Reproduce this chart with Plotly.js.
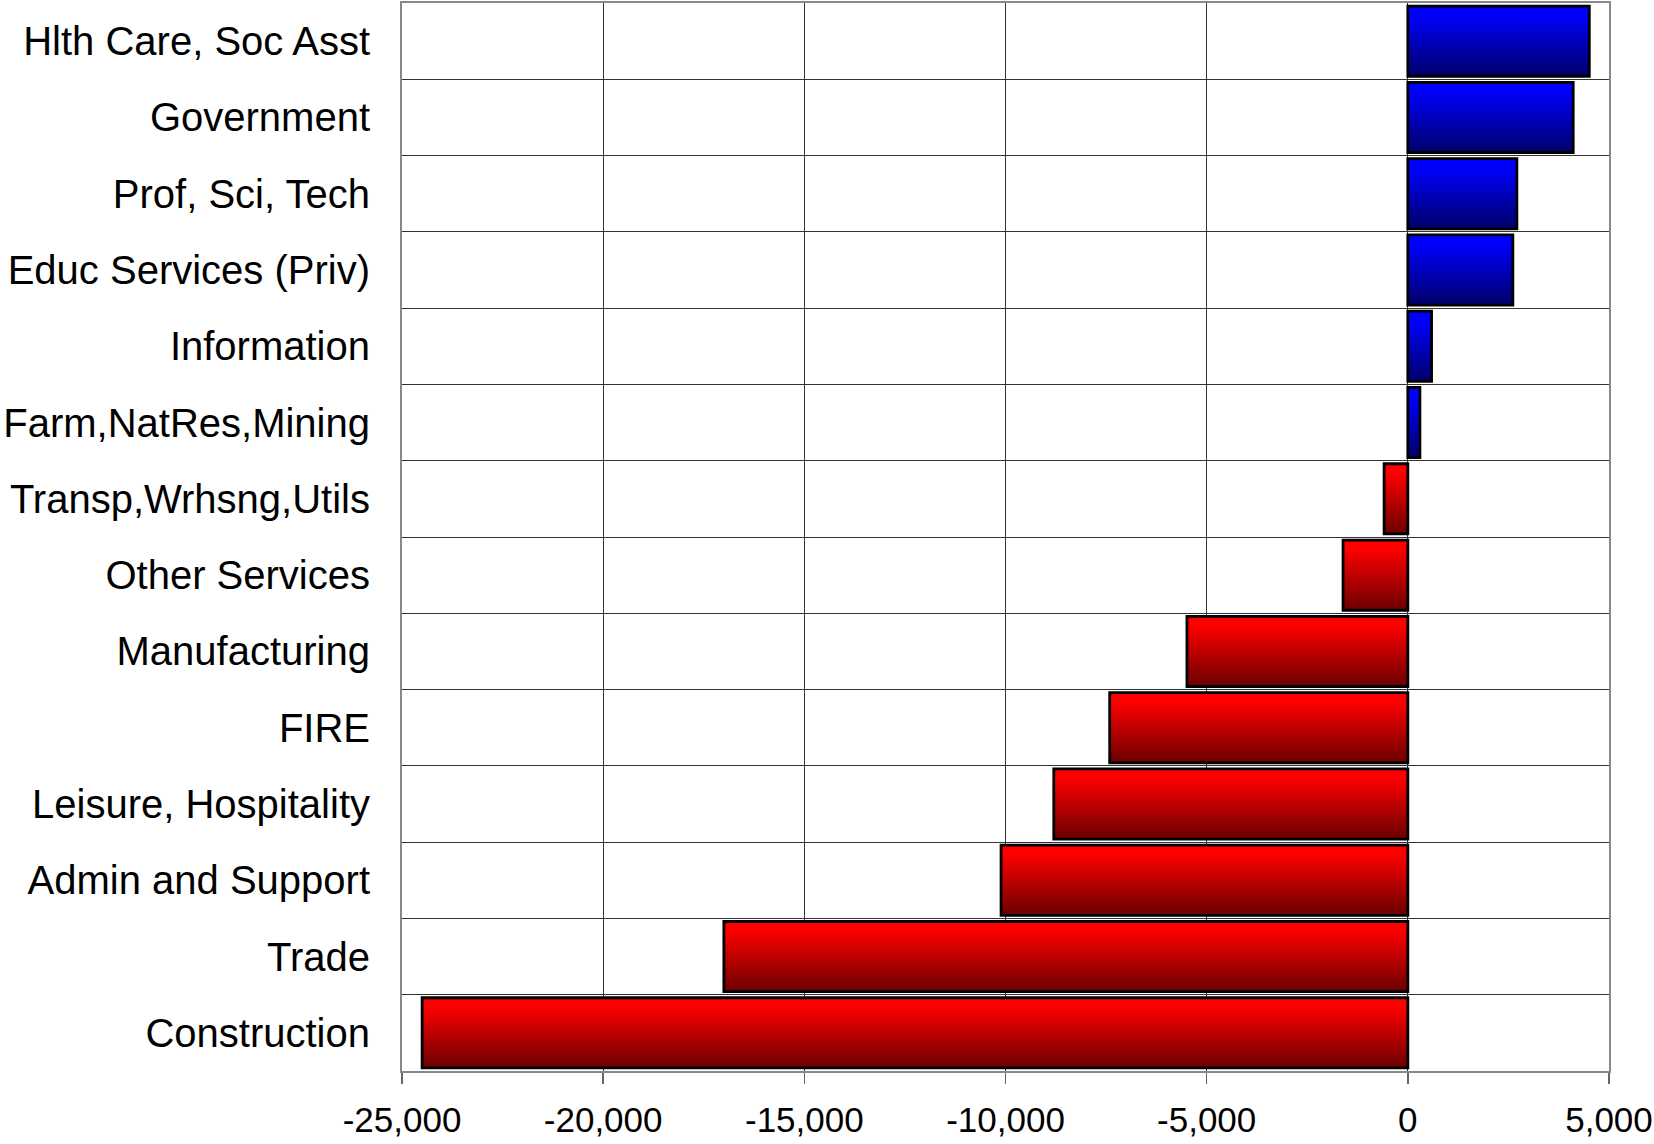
<!DOCTYPE html>
<html>
<head>
<meta charset="utf-8">
<script src="https://cdn.plot.ly/plotly-3.0.1.min.js"></script>
<style>
html,body{margin:0;padding:0;background:#fff;}
#chart{width:1654px;height:1144px;}
</style>
</head>
<body>
<div id="chart"></div>
<script>
// Categories listed top to bottom as in the chart
const categories = [
  "Hlth Care, Soc Asst",
  "Government",
  "Prof, Sci, Tech",
  "Educ Services (Priv)",
  "Information",
  "Farm,NatRes,Mining",
  "Transp,Wrhsng,Utils",
  "Other Services",
  "Manufacturing",
  "FIRE",
  "Leisure, Hospitality",
  "Admin and Support",
  "Trade",
  "Construction"
];
const changes = [4510, 4110, 2710, 2610, 590, 300, -590, -1610, -5490, -7410, -8800, -10110, -17000, -24500];
const xTickValues = [-25000, -20000, -15000, -10000, -5000, 0, 5000];
const xTickLabels = ["-25,000", "-20,000", "-15,000", "-10,000", "-5,000", "0", "5,000"];

const barColors = changes.map(v => v >= 0 ? "#0000ff" : "#ff0000");

const trace = {
  type: "bar",
  orientation: "h",
  y: categories,
  x: changes,
  width: 0.92,
  marker: {color: barColors, line: {color: "#000000", width: 2.8}},
  hoverinfo: "skip"
};

const layout = {
  width: 1654, height: 1144,
  margin: {l: 402, r: 45, t: 3, b: 73, pad: 0},
  paper_bgcolor: "#ffffff",
  plot_bgcolor: "#ffffff",
  font: {family: "Liberation Sans, Arial, sans-serif", color: "#000000"},
  showlegend: false,
  bargap: 0.08,
  xaxis: {
    range: [-25000, 5000],
    tickvals: xTickValues,
    ticktext: xTickLabels,
    ticks: "outside", ticklen: 11, tickwidth: 1.5, tickcolor: "#666666",
    tickfont: {size: 35, color: "#000000"},
    ticklabelstandoff: 6,
    showgrid: true, gridcolor: "#333333", gridwidth: 1,
    zeroline: false,
    showline: true, linecolor: "#888888", linewidth: 2, mirror: true
  },
  yaxis: {
    type: "category",
    categoryorder: "array",
    categoryarray: categories,
    autorange: "reversed",
    tickson: "boundaries",
    ticks: "",
    tickfont: {size: 40, color: "#000000"},
    ticklabelstandoff: 22,
    showgrid: true, gridcolor: "#333333", gridwidth: 1,
    zeroline: false,
    showline: true, linecolor: "#888888", linewidth: 2, mirror: true
  }
};

Plotly.newPlot("chart", [trace], layout, {staticPlot: true, displayModeBar: false}).then(gd => {
  const svgNS = "http://www.w3.org/2000/svg";
  const svg = gd.querySelector("svg.main-svg");
  let defs = svg.querySelector("defs");
  if (!defs) { defs = document.createElementNS(svgNS, "defs"); svg.insertBefore(defs, svg.firstChild); }
  function grad(id, top, bottom) {
    const g = document.createElementNS(svgNS, "linearGradient");
    g.setAttribute("id", id);
    g.setAttribute("x1", "0"); g.setAttribute("y1", "0");
    g.setAttribute("x2", "0"); g.setAttribute("y2", "1");
    [[0, top], [0.12, top], [1, bottom]].forEach(([o, c]) => {
      const s = document.createElementNS(svgNS, "stop");
      s.setAttribute("offset", o);
      s.setAttribute("stop-color", c);
      g.appendChild(s);
    });
    defs.appendChild(g);
  }
  grad("gradBlue", "#0000ff", "#000068");
  grad("gradRed", "#ff0000", "#6a0000");
  const paths = gd.querySelectorAll(".bars .point path");
  paths.forEach((p, i) => {
    p.style.fill = changes[i] >= 0 ? "url(#gradBlue)" : "url(#gradRed)";
  });
});
</script>
</body>
</html>
